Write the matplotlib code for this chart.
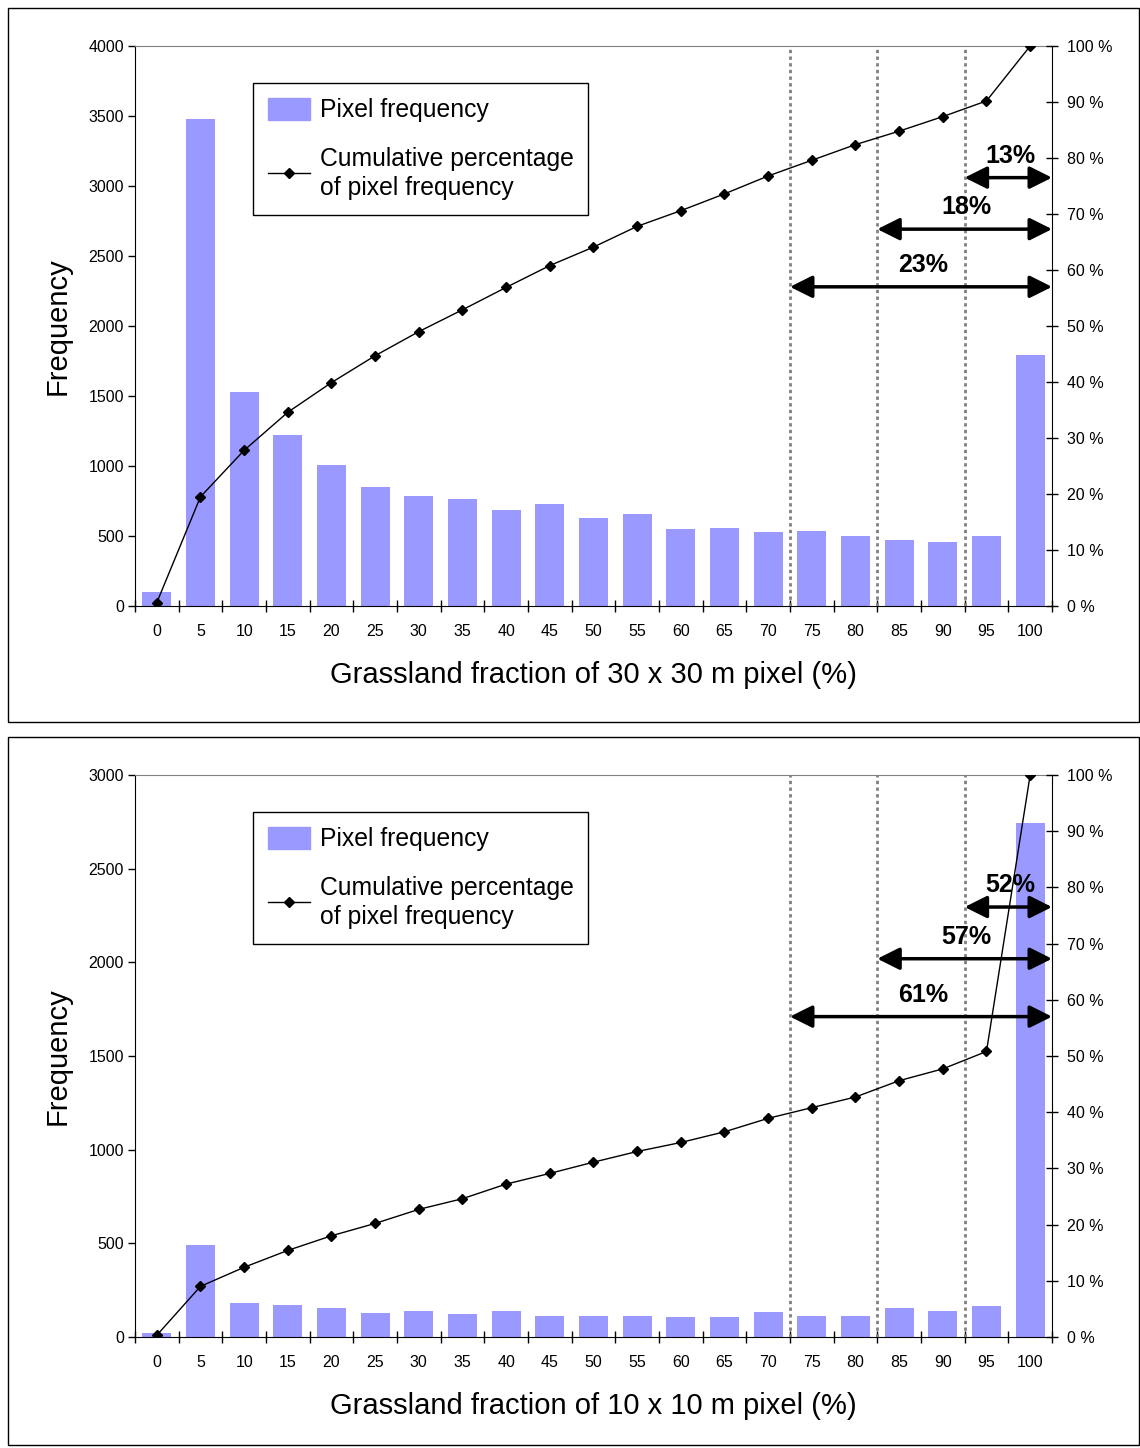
import matplotlib
matplotlib.use("Agg")
import matplotlib.pyplot as plt
from matplotlib.patches import Rectangle
from matplotlib.lines import Line2D
from matplotlib.ticker import FuncFormatter

plt.rcParams['font.family'] = ['Liberation Sans', 'DejaVu Sans']

categories = [0, 5, 10, 15, 20, 25, 30, 35, 40, 45, 50, 55, 60, 65, 70, 75, 80, 85, 90, 95, 100]

freq_30m = [100, 3480, 1530, 1220, 1010, 850, 785, 765, 685, 730, 630, 655, 550, 560, 525, 538, 503, 470, 459, 503, 1790]
cum_30m = [0.6, 19.5, 27.8, 34.6, 39.9, 44.7, 49.0, 52.9, 56.9, 60.8, 64.1, 67.8, 70.6, 73.6, 76.8, 79.6, 82.4, 84.8, 87.4, 90.2, 100]
arrows_30m = ['23%', '18%', '13%']

freq_10m = [20, 490, 180, 171, 154, 129, 139, 120, 139, 114, 114, 114, 106, 106, 131, 114, 114, 154, 139, 165, 2745]
cum_10m = [0.3, 9.0, 12.4, 15.4, 18.0, 20.2, 22.7, 24.6, 27.2, 29.1, 31.1, 33.0, 34.6, 36.5, 38.9, 40.8, 42.7, 45.6, 47.7, 50.8, 100]
arrows_10m = ['61%', '57%', '52%']

# arrow start positions (category boundaries) and heights in % axis
arrow_start = [14.5, 16.5, 18.5]
arrow_y = [57.0, 67.3, 76.5]

BAR = '#9999FF'

fig = plt.figure(figsize=(11.4, 14.48), dpi=100)

# panel frames
for y0, y1 in [(0.5014, 0.9945), (0.002, 0.491)]:
    fig.patches.append(Rectangle((0.007, y0), 0.992, y1 - y0, transform=fig.transFigure,
                                 fill=False, edgecolor='black', linewidth=1.0))


def draw_panel(rect, freq, cum, ymax, ystep, xlabel, labels):
    ax = fig.add_axes(rect)
    x = list(range(len(categories)))
    ax.bar(x, freq, width=0.66, color=BAR, zorder=2)
    ax.set_xlim(-0.5, len(categories) - 0.5)
    ax.set_ylim(0, ymax)
    ax.set_yticks(range(0, ymax + 1, ystep))
    ax.set_xticks(x)
    ax.set_xticklabels([str(c) for c in categories])
    ax.set_xticks([i - 0.5 for i in range(len(categories) + 1)], minor=True)
    ax.tick_params(axis='x', which='major', length=0, pad=13, labelsize=11.5)
    ax.tick_params(axis='x', which='minor', length=9, direction='inout', width=1)
    ax.tick_params(axis='y', length=5, direction='out', width=1, labelsize=11.5, pad=3)
    ax.spines['top'].set_color('#808080')
    ax.spines['right'].set_visible(False)
    ax.set_xlabel(xlabel, fontsize=21, labelpad=16)
    ax.set_ylabel('Frequency', fontsize=21, labelpad=12)

    for xs in arrow_start:
        ax.axvline(xs, color='#808080', linestyle=(0, (1.2, 1.2)), linewidth=2, zorder=3)

    ax2 = ax.twinx()
    ax2.set_ylim(0, 100)
    ax2.set_yticks(range(0, 101, 10))
    ax2.yaxis.set_major_formatter(FuncFormatter(lambda v, p: f"{int(v)} %"))
    ax2.tick_params(axis='y', length=9, direction='inout', width=1, labelsize=11.5, pad=6)
    for s in ['top', 'left', 'bottom']:
        ax2.spines[s].set_visible(False)
    ax2.plot(x, cum, color='black', linewidth=1, marker='D', markersize=5.5, zorder=4)

    right = len(categories) - 0.5
    for xs, yv, lab in zip(arrow_start, arrow_y, labels):
        ax2.annotate('', xy=(right, yv), xytext=(xs, yv),
                     arrowprops=dict(arrowstyle='<|-|>', lw=2.5, color='black',
                                     mutation_scale=34, shrinkA=0, shrinkB=0),
                     annotation_clip=False, zorder=5)
        ax2.text((xs + right) / 2 + 0.05, yv + 3.9, lab, ha='center', va='center',
                 fontsize=18, fontweight='bold', zorder=6)

    handles = [Rectangle((0, 0), 1, 1, color=BAR),
               Line2D([], [], color='black', linewidth=1, marker='D', markersize=5.5)]
    leg = ax2.legend(handles, ['Pixel frequency', 'Cumulative percentage\nof pixel frequency'],
                     loc='upper left', bbox_to_anchor=(0.1287, 0.934), fontsize=17.8,
                     fancybox=False, frameon=True, edgecolor='black', framealpha=1,
                     handlelength=1.7, handleheight=1.0, borderpad=0.6, labelspacing=1.0,
                     handletextpad=0.4, borderaxespad=0)
    for t in leg.get_texts():
        t.set_linespacing(1.25)
    leg.get_frame().set_linewidth(1)
    return ax, ax2


draw_panel([0.1184, 0.5815, 0.8044, 0.3867], freq_30m, cum_30m, 4000, 500,
           'Grassland fraction of 30 x 30 m pixel (%)', arrows_30m)
draw_panel([0.1184, 0.0767, 0.8044, 0.3881], freq_10m, cum_10m, 3000, 500,
           'Grassland fraction of 10 x 10 m pixel (%)', arrows_10m)

fig.savefig('out.png', dpi=100)
